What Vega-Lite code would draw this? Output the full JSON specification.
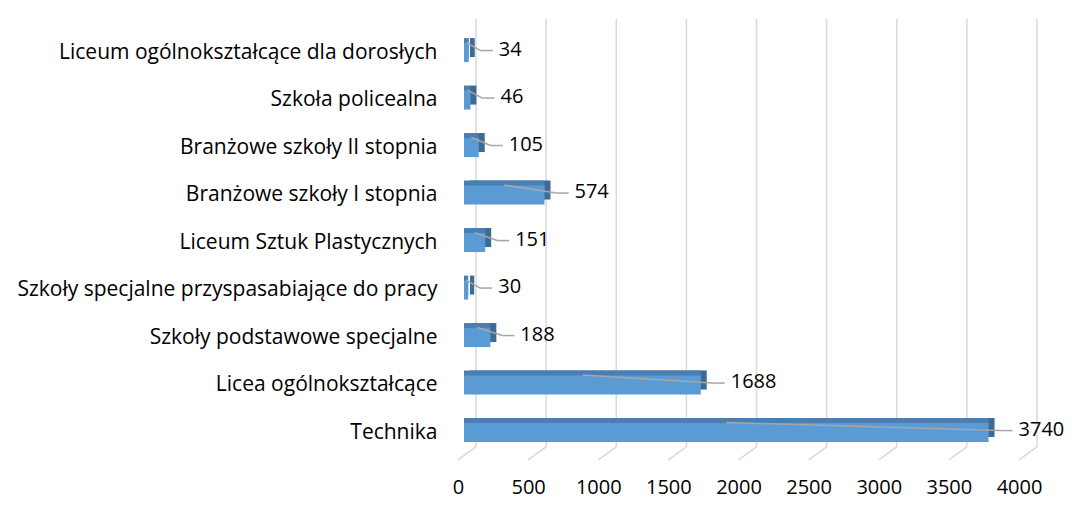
{
  "$schema": "https://vega.github.io/schema/vega-lite/v6.json",
  "autosize": {"type": "none"},
  "padding": {"left": 464, "top": 19, "right": 47, "bottom": 66},
  "width": 561,
  "height": 428,
  "background": "white",
  "config": {"view": {"stroke": null}, "font": "Open Sans"},
  "datasets": {
    "schools": [
      {"category": "Liceum ogólnokształcące dla dorosłych", "value": 34},
      {"category": "Szkoła policealna", "value": 46},
      {"category": "Branżowe szkoły II stopnia", "value": 105},
      {"category": "Branżowe szkoły I stopnia", "value": 574},
      {"category": "Liceum Sztuk Plastycznych", "value": 151},
      {"category": "Szkoły specjalne przyspasabiające do pracy", "value": 30},
      {"category": "Szkoły podstawowe specjalne", "value": 188},
      {"category": "Licea ogólnokształcące", "value": 1688},
      {"category": "Technika", "value": 3740}
    ],
    "ticks": [
      {"tick": 0}, {"tick": 500}, {"tick": 1000}, {"tick": 1500}, {"tick": 2000},
      {"tick": 2500}, {"tick": 3000}, {"tick": 3500}, {"tick": 4000}
    ]
  },
  "params": [
    {"name": "order", "value": [
      "Liceum ogólnokształcące dla dorosłych", "Szkoła policealna", "Branżowe szkoły II stopnia",
      "Branżowe szkoły I stopnia", "Liceum Sztuk Plastycznych", "Szkoły specjalne przyspasabiające do pracy",
      "Szkoły podstawowe specjalne", "Licea ogólnokształcące", "Technika"
    ]}
  ],
  "layer": [
    {
      "data": {"name": "ticks"},
      "mark": {"type": "rule", "color": "#d9d9d9", "strokeWidth": 1.5, "xOffset": 12},
      "encoding": {
        "x": {
          "field": "tick", "type": "quantitative",
          "scale": {"domain": [0, 4000], "nice": false, "zero": true},
          "axis": {
            "title": null, "values": [0, 500, 1000, 1500, 2000, 2500, 3000, 3500, 4000],
            "format": "d",
            "grid": false, "domain": false, "ticks": false,
            "labelOffset": -6, "labelPadding": 30, "labelFontSize": 20,
            "labelColor": "#000000", "labelFont": "Open Sans", "labelFlush": false
          }
        }
      }
    },
    {
      "data": {"name": "ticks"},
      "mark": {"type": "rule", "color": "#d9d9d9", "strokeWidth": 1.5, "xOffset": 12, "x2Offset": -6, "yOffset": 14.4, "y2Offset": 27.4},
      "encoding": {
        "x": {"field": "tick", "type": "quantitative"},
        "x2": {"field": "tick"},
        "y": {"datum": "Technika", "type": "nominal", "sort": {"expr": "order"}},
        "y2": {"datum": "Technika"}
      }
    },
    {
      "data": {"name": "schools"},
      "encoding": {
        "y": {
          "field": "category", "type": "nominal",
          "sort": [
            "Liceum ogólnokształcące dla dorosłych", "Szkoła policealna", "Branżowe szkoły II stopnia",
            "Branżowe szkoły I stopnia", "Liceum Sztuk Plastycznych", "Szkoły specjalne przyspasabiające do pracy",
            "Szkoły podstawowe specjalne", "Licea ogólnokształcące", "Technika"
          ],
          "scale": {
            "domain": [
              "Liceum ogólnokształcące dla dorosłych", "Szkoła policealna", "Branżowe szkoły II stopnia",
              "Branżowe szkoły I stopnia", "Liceum Sztuk Plastycznych", "Szkoły specjalne przyspasabiające do pracy",
              "Szkoły podstawowe specjalne", "Licea ogólnokształcące", "Technika"
            ],
            "paddingInner": 0.6, "paddingOuter": 0.305, "align": 0.83
          },
          "axis": {
            "title": null, "domain": false, "ticks": false, "labelPadding": 27,
            "labelFontSize": 21, "labelColor": "#000000", "labelFont": "Open Sans", "labelLimit": 0
          }
        }
      },
      "layer": [
        {
          "mark": {"type": "bar", "color": "#3d6a96", "xOffset": 6, "x2Offset": 6, "yOffset": -5, "y2Offset": -5},
          "encoding": {"x": {"field": "value", "type": "quantitative"}}
        },
        {
          "mark": {"type": "bar", "color": "#4a7fb3", "xOffset": 0, "x2Offset": 6, "yOffset": -5, "y2Offset": -5},
          "encoding": {"x": {"field": "value", "type": "quantitative"}}
        },
        {
          "mark": {"type": "bar", "color": "#5b9bd5"},
          "encoding": {"x": {"field": "value", "type": "quantitative"}}
        },
        {
          "transform": [{"calculate": "datum.value / 2", "as": "mid"}],
          "mark": {"type": "rule", "color": "#a6a6a6", "strokeWidth": 1.5, "yOffset": -10, "x2Offset": 12, "y2Offset": -2},
          "encoding": {
            "x": {"field": "mid", "type": "quantitative"},
            "x2": {"field": "value"},
            "y2": {"field": "category"}
          }
        },
        {
          "mark": {"type": "rule", "color": "#a6a6a6", "strokeWidth": 1.5, "xOffset": 12, "x2Offset": 24, "yOffset": -2, "y2Offset": -2},
          "encoding": {
            "x": {"field": "value", "type": "quantitative"},
            "x2": {"field": "value"},
            "y2": {"field": "category"}
          }
        },
        {
          "mark": {"type": "text", "align": "left", "baseline": "middle", "xOffset": 30, "yOffset": -3, "fontSize": 20, "font": "Open Sans", "color": "#000000"},
          "encoding": {
            "x": {"field": "value", "type": "quantitative"},
            "text": {"field": "value", "type": "quantitative"}
          }
        }
      ]
    }
  ]
}
